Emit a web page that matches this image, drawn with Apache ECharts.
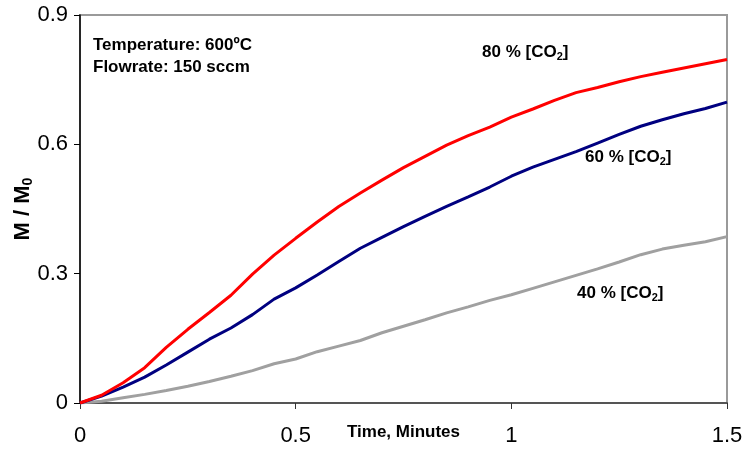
<!DOCTYPE html>
<html>
<head>
<meta charset="utf-8">
<script src="https://cdn.jsdelivr.net/npm/echarts@6/dist/echarts.min.js"></script>
<style>html,body{margin:0;padding:0;background:#fff}#c{width:743px;height:451px}</style>
</head>
<body>
<div id="c"></div>
<script>
var times = [0,0.05,0.1,0.15,0.2,0.25,0.3,0.35,0.4,0.45,0.5,0.55,0.6,0.65,0.7,0.75,0.8,0.85,0.9,0.95,1.0,1.05,1.1,1.15,1.2,1.25,1.3,1.35,1.4,1.45,1.5];
var co2_80 = [0,0.018,0.047,0.082,0.129,0.171,0.210,0.250,0.299,0.343,0.382,0.420,0.456,0.487,0.517,0.546,0.572,0.598,0.620,0.640,0.663,0.682,0.702,0.720,0.732,0.745,0.757,0.767,0.777,0.787,0.797];
var co2_60 = [0,0.016,0.037,0.060,0.088,0.118,0.148,0.174,0.205,0.241,0.267,0.297,0.328,0.359,0.384,0.409,0.433,0.456,0.478,0.501,0.526,0.547,0.565,0.583,0.603,0.623,0.642,0.657,0.671,0.683,0.698];
var co2_40 = [0,0.004,0.012,0.020,0.029,0.039,0.050,0.062,0.075,0.091,0.102,0.119,0.132,0.145,0.163,0.178,0.193,0.209,0.223,0.238,0.251,0.266,0.281,0.296,0.311,0.327,0.344,0.357,0.366,0.374,0.386];
var xTicks = {min:0, max:1.5, interval:0.5};
var yTicks = {min:0, max:0.9, interval:0.3};

function pairs(ys){ return times.map(function(t,i){return [t, ys[i]];}); }

var FONT = 'Liberation Sans, Arial, sans-serif';
var chart = echarts.init(document.getElementById('c'));
var richCO2 = {
  a:{fontSize:17,fontWeight:'bold',fontFamily:FONT,color:'#000',lineHeight:20},
  sub:{fontSize:11,fontWeight:'bold',fontFamily:FONT,color:'#000',verticalAlign:'bottom',lineHeight:11}
};
function lbl(txt,x,y){
  return {type:'text',left:x,top:y,style:{text:'{a|'+txt+' % [CO}{sub|2}{a|]}',rich:richCO2}};
}
chart.setOption({
  animation:false,
  grid:{left:80,right:16,top:15,bottom:48,outerBoundsMode:'none',containLabel:false,show:true,borderColor:'#9a9a9a',borderWidth:2},
  xAxis:{type:'value',min:xTicks.min,max:xTicks.max,interval:xTicks.interval,
    name:'Time, Minutes',nameLocation:'middle',nameGap:21,nameMoveOverlap:false,
    nameTextStyle:{fontSize:17,fontWeight:'bold',fontFamily:FONT,color:'#000'},
    axisLine:{lineStyle:{color:'#555',width:2}},
    axisTick:{inside:false,length:6,lineStyle:{color:'#333',width:1}},
    axisLabel:{margin:22,fontSize:22,fontFamily:FONT,color:'#000'},
    splitLine:{show:false}},
  yAxis:{type:'value',min:yTicks.min,max:yTicks.max,interval:yTicks.interval,
    name:'{a|M / M}{sub|0}',nameLocation:'middle',nameGap:45,nameRotate:90,nameMoveOverlap:false,
    nameTextStyle:{rich:{a:{fontSize:22,fontWeight:'bold',fontFamily:FONT,color:'#000',lineHeight:24},sub:{fontSize:14,fontWeight:'bold',fontFamily:FONT,color:'#000',verticalAlign:'bottom',lineHeight:14}}},
    axisLine:{lineStyle:{color:'#000',width:1.5}},
    axisTick:{length:6,lineStyle:{color:'#000',width:1}},
    axisLabel:{margin:12,fontSize:22,fontFamily:FONT,color:'#000'},
    splitLine:{show:false}},
  series:[
    {type:'line',data:pairs(co2_40),showSymbol:false,lineStyle:{color:'#a0a0a0',width:3},z:2},
    {type:'line',data:pairs(co2_60),showSymbol:false,lineStyle:{color:'#000080',width:3},z:3},
    {type:'line',data:pairs(co2_80),showSymbol:false,lineStyle:{color:'#ff0000',width:3},z:4}
  ],
  graphic:[
    {type:'text',left:93,top:34,style:{text:'Temperature: 600ºC\nFlowrate: 150 sccm',fontSize:17,fontWeight:'bold',fontFamily:FONT,fill:'#000',lineHeight:22}},
    lbl('80',482,44),
    lbl('60',585,149),
    lbl('40',577,285)
  ]
});
</script>
</body>
</html>
